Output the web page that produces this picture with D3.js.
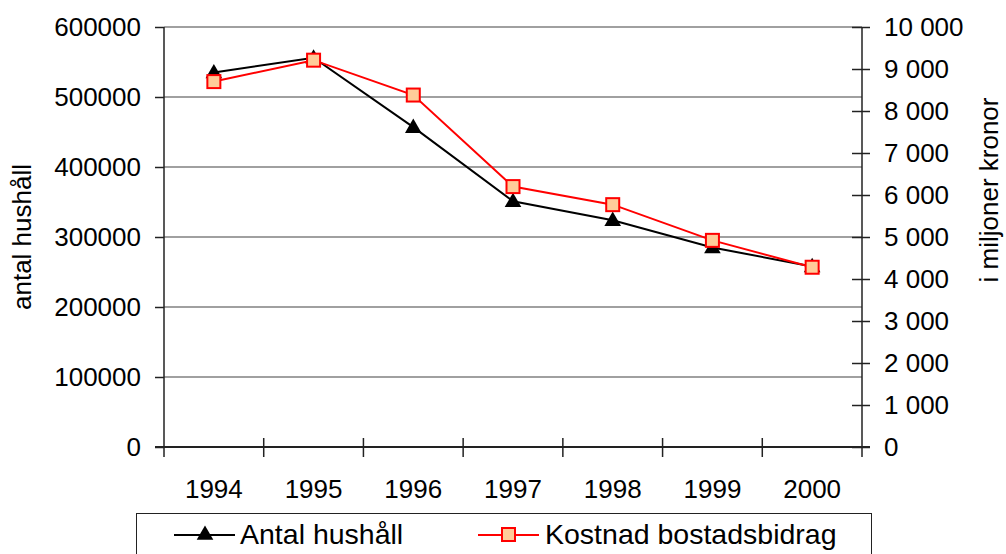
<!DOCTYPE html>
<html>
<head>
<meta charset="utf-8">
<script src="https://cdn.jsdelivr.net/npm/d3@7"></script>
<style>
  body { margin: 0; background: #fff; }
  text { font-family: "Liberation Sans", Arial, sans-serif; fill: #000; }
</style>
</head>
<body>
<div id="chart"></div>
<script>
// values
var years = ["1994", "1995", "1996", "1997", "1998", "1999", "2000"];
var households = [535000, 556000, 457000, 351000, 324000, 285000, 258000];
var cost = [8700, 9210, 8380, 6200, 5770, 4920, 4280];
var leftTicks = [0, 100000, 200000, 300000, 400000, 500000, 600000];
var rightTicks = [0, 1000, 2000, 3000, 4000, 5000, 6000, 7000, 8000, 9000, 10000];

var width = 1006, height = 554;
var plot = { left: 164, right: 862, top: 27, bottom: 447 };

var svg = d3.select("#chart")
            .append("svg")
            .attr("width", width)
            .attr("height", height);

var x = d3.scaleBand()
          .domain(years)
          .range([plot.left, plot.right]);

var yL = d3.scaleLinear()
           .domain([0, 600000])
           .range([plot.bottom, plot.top]);

var yR = d3.scaleLinear()
           .domain([0, 10000])
           .range([plot.bottom, plot.top]);

// gridlines
svg.append("g")
  .selectAll("line")
  .data(leftTicks.slice(1))
  .enter()
  .append("line")
  .attr("x1", plot.left)
  .attr("x2", plot.right)
  .attr("y1", function(d) { return yL(d); })
  .attr("y2", function(d) { return yL(d); })
  .style("stroke", "#808080")
  .style("stroke-width", 1.5);

// left axis
var leftAxis = svg.append("g")
    .attr("transform", "translate(" + plot.left + ",0)")
    .call(d3.axisLeft(yL).tickValues(leftTicks).tickSize(9).tickPadding(14).tickFormat(d3.format("d")));
leftAxis.select(".domain").attr("d", "M0," + plot.top + "V" + (plot.bottom + 10));
leftAxis.selectAll("path,line").style("stroke", "#222").style("stroke-width", 1.5);
leftAxis.selectAll("text").style("font-size", "26px").style("font-family", "Liberation Sans, Arial, sans-serif");

// right axis (ticks cross the line)
var rightAxis = svg.append("g")
    .attr("transform", "translate(" + plot.right + ",0)")
    .call(d3.axisRight(yR).tickValues(rightTicks).tickSize(8).tickPadding(14)
      .tickFormat(function(d) { return d3.format(",")(d).replace(",", " "); }));
rightAxis.select(".domain").attr("d", "M0," + plot.top + "V" + (plot.bottom + 10));
rightAxis.selectAll(".tick line").attr("x1", -10);
rightAxis.selectAll("path,line").style("stroke", "#222").style("stroke-width", 1.5);
rightAxis.selectAll("text").style("font-size", "26px").style("font-family", "Liberation Sans, Arial, sans-serif");

// bottom axis with boundary ticks
var xAxis = svg.append("g")
    .attr("transform", "translate(0," + plot.bottom + ")");
xAxis.append("line")
  .attr("x1", plot.left - 9)
  .attr("x2", plot.right + 8)
  .style("stroke", "#222")
  .style("stroke-width", 2);
xAxis.selectAll(".bnd")
  .data(years.slice(1))
  .enter()
  .append("line")
  .attr("x1", function(d) { return x(d); })
  .attr("x2", function(d) { return x(d); })
  .attr("y1", -9)
  .attr("y2", 10)
  .style("stroke", "#222")
  .style("stroke-width", 1.5);
xAxis.selectAll("text")
  .data(years)
  .enter()
  .append("text")
  .attr("x", function(d) { return x(d) + x.bandwidth() / 2; })
  .attr("y", 51)
  .attr("text-anchor", "middle")
  .style("font-size", "26px")
  .text(function(d) { return d; });

// axis titles
svg.append("text")
  .attr("transform", "translate(31," + ((plot.top + plot.bottom) / 2) + ") rotate(-90)")
  .attr("text-anchor", "middle")
  .style("font-size", "26px")
  .text("antal hushåll");

svg.append("text")
  .attr("transform", "translate(998,190) rotate(-90)")
  .attr("text-anchor", "middle")
  .style("font-size", "26px")
  .text("i miljoner kronor");

// lines
var cx = function(i) { return x(years[i]) + x.bandwidth() / 2; };

var lineH = d3.line()
  .x(function(d, i) { return cx(i); })
  .y(function(d) { return yL(d); });
var lineC = d3.line()
  .x(function(d, i) { return cx(i); })
  .y(function(d) { return yR(d); });

var tri = d3.symbol().type(d3.symbolTriangle).size(120);

svg.append("path")
  .datum(households)
  .attr("d", lineH)
  .style("fill", "none")
  .style("stroke", "#000")
  .style("stroke-width", 2);

svg.selectAll(".tri")
  .data(households)
  .enter()
  .append("path")
  .attr("transform", function(d, i) { return "translate(" + cx(i) + "," + (yL(d) + 1) + ")"; })
  .attr("d", tri)
  .style("fill", "#000");

svg.append("path")
  .datum(cost)
  .attr("d", lineC)
  .style("fill", "none")
  .style("stroke", "#ff0000")
  .style("stroke-width", 2);

svg.selectAll(".sq")
  .data(cost)
  .enter()
  .append("rect")
  .attr("x", function(d, i) { return cx(i) - 6.5; })
  .attr("y", function(d) { return yR(d) - 6.5; })
  .attr("width", 13)
  .attr("height", 13)
  .style("fill", "#ffcc99")
  .style("stroke", "#ff0000")
  .style("stroke-width", 2);

// legend
var legend = svg.append("g");
legend.append("rect")
  .attr("x", 136.5)
  .attr("y", 513.5)
  .attr("width", 735)
  .attr("height", 60)
  .style("fill", "#fff")
  .style("stroke", "#222")
  .style("stroke-width", 1);

legend.append("line")
  .attr("x1", 174).attr("x2", 235)
  .attr("y1", 535).attr("y2", 535)
  .style("stroke", "#000").style("stroke-width", 2);
legend.append("path")
  .attr("transform", "translate(205,535)")
  .attr("d", tri)
  .style("fill", "#000");
legend.append("text")
  .attr("x", 240).attr("y", 544)
  .style("font-size", "28.5px")
  .text("Antal hushåll");

legend.append("line")
  .attr("x1", 478).attr("x2", 539)
  .attr("y1", 535).attr("y2", 535)
  .style("stroke", "#ff0000").style("stroke-width", 2);
legend.append("rect")
  .attr("x", 502).attr("y", 528)
  .attr("width", 13).attr("height", 13)
  .style("fill", "#ffcc99")
  .style("stroke", "#ff0000")
  .style("stroke-width", 2);
legend.append("text")
  .attr("x", 545).attr("y", 544)
  .style("font-size", "28.5px")
  .text("Kostnad bostadsbidrag");
</script>
</body>
</html>
